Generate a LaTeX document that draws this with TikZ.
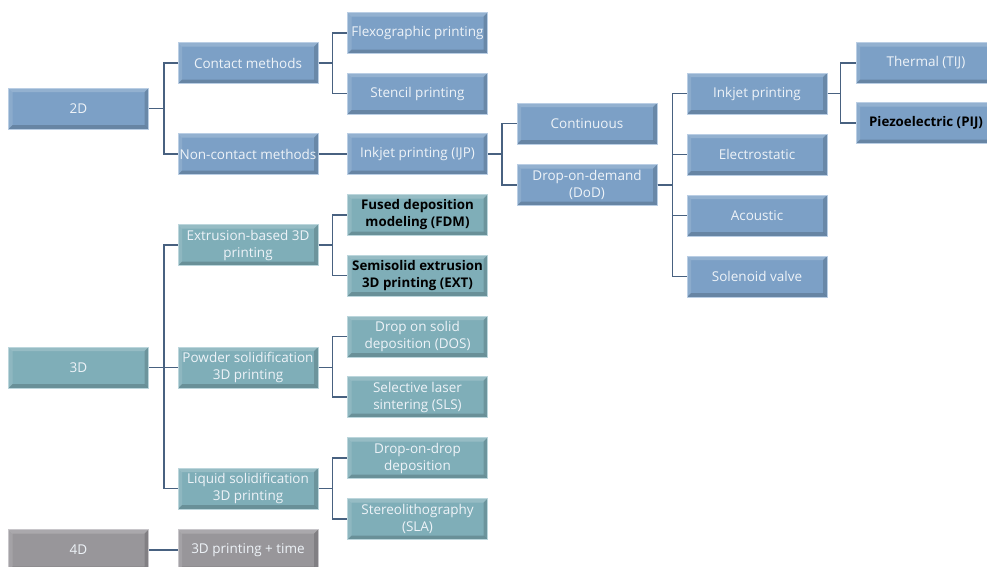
\documentclass[tikz,border=0pt]{standalone}
\usepackage{fontspec}
\setmainfont{Open Sans}
\definecolor{boxblue}{RGB}{124,160,198}
\definecolor{boxteal}{RGB}{127,174,184}
\definecolor{boxgray}{RGB}{152,150,154}
\definecolor{edgeblue}{RGB}{186,206,228}
\definecolor{edgeteal}{RGB}{188,214,220}
\definecolor{edgegray}{RGB}{200,198,202}
\definecolor{linecol}{RGB}{72,97,128}
\definecolor{boxtext}{RGB}{238,243,248}
\tikzset{
  bevel/.style={path picture={
    \coordinate (bv1) at (path picture bounding box.north west);
    \coordinate (bv2) at (path picture bounding box.north east);
    \coordinate (bv3) at (path picture bounding box.south east);
    \coordinate (bv4) at (path picture bounding box.south west);
    \fill[white,opacity=.18] (bv1) -- (bv2) -- ([shift={(-4pt,-4pt)}]bv2) -- ([shift={(4pt,-4pt)}]bv1) -- cycle;
    \fill[white,opacity=.12] (bv1) -- (bv4) -- ([shift={(4pt,4pt)}]bv4) -- ([shift={(4pt,-4pt)}]bv1) -- cycle;
    \fill[black,opacity=.17] (bv4) -- (bv3) -- ([shift={(-4pt,4pt)}]bv3) -- ([shift={(4pt,4pt)}]bv4) -- cycle;
    \fill[black,opacity=.15] (bv2) -- (bv3) -- ([shift={(-4pt,4pt)}]bv3) -- ([shift={(-4pt,-4pt)}]bv2) -- cycle;
  }},
  box/.style={minimum width=140pt, minimum height=41pt, inner sep=1pt, align=center,
    font=\fontsize{13.5}{17}\selectfont, text=boxtext, line width=1pt, bevel},
  bluebox/.style={box, fill=boxblue, draw=edgeblue},
  tealbox/.style={box, fill=boxteal, draw=edgeteal},
  graybox/.style={box, fill=boxgray, draw=edgegray},
  strong/.style={text=black, font=\fontsize{13.3}{17}\selectfont\bfseries},
  conn/.style={draw=linecol, line width=1.5pt}
}
\begin{document}
\begin{tikzpicture}[x=1pt,y=-1pt]
\useasboundingbox (0,0) rectangle (987,566);
% 2D
\node[bluebox] (d2) at (78.5,108.5) {2D};
\node[bluebox] (contact) at (248,63) {Contact methods};
\node[bluebox] (noncontact) at (248,154) {Non-contact methods};
\node[bluebox] (flexo) at (417.5,33) {Flexographic printing};
\node[bluebox] (stencil) at (417.5,93.5) {Stencil printing};
\node[bluebox] (ijp) at (417.5,154) {Inkjet printing (IJP)};
\node[bluebox] (cont) at (587,123.5) {Continuous};
\node[bluebox] (dod) at (587,185) {Drop-on-demand\\(DoD)};
\node[bluebox] (inkjet) at (757,93.5) {Inkjet printing};
\node[bluebox] (electro) at (757,154.5) {Electrostatic};
\node[bluebox] (acoustic) at (757,215.5) {Acoustic};
\node[bluebox] (solenoid) at (757,276.5) {Solenoid valve};
\node[bluebox] (thermal) at (926,63) {Thermal (TIJ)};
\node[bluebox,strong] (piezo) at (926,123) {Piezoelectric (PIJ)};
% 3D
\node[tealbox] (d3) at (78.5,367.5) {3D};
\node[tealbox] (extr) at (248,245) {Extrusion-based 3D\\printing};
\node[tealbox] (powder) at (248,367.5) {Powder solidification\\3D printing};
\node[tealbox] (liquid) at (248,488.5) {Liquid solidification\\3D printing};
\node[tealbox,strong] (fdm) at (417.5,215) {Fused deposition\\modeling (FDM)};
\node[tealbox,strong] (ext) at (417.5,275.5) {Semisolid extrusion\\3D printing (EXT)};
\node[tealbox] (dos) at (417.5,336.5) {Drop on solid\\deposition (DOS)};
\node[tealbox] (sls) at (417.5,397) {Selective laser\\sintering (SLS)};
\node[tealbox] (dodd) at (417.5,458) {Drop-on-drop\\deposition};
\node[tealbox] (sla) at (417.5,519) {Stereolithography\\(SLA)};
% 4D
\node[graybox] (d4) at (78.5,550) {4D};
\node[graybox] (time) at (248,550) {3D printing + time};
% connectors
\draw[conn] (d2.east) -- ++(15,0) |- (contact.west);
\draw[conn] (d2.east) -- ++(15,0) |- (noncontact.west);
\draw[conn] (contact.east) -- ++(14,0) |- (flexo.west);
\draw[conn] (contact.east) -- ++(14,0) |- (stencil.west);
\draw[conn] (noncontact.east) -- (ijp.west);
\draw[conn] (ijp.east) -- ++(14,0) |- (cont.west);
\draw[conn] (ijp.east) -- ++(14,0) |- (dod.west);
\draw[conn] (dod.east) -- ++(15,0) |- (inkjet.west);
\draw[conn] (dod.east) -- ++(15,0) |- (electro.west);
\draw[conn] (dod.east) -- ++(15,0) |- (acoustic.west);
\draw[conn] (dod.east) -- ++(15,0) |- (solenoid.west);
\draw[conn] (inkjet.east) -- ++(13,0) |- (thermal.west);
\draw[conn] (inkjet.east) -- ++(13,0) |- (piezo.west);
\draw[conn] (d3.east) -- ++(15,0) |- (extr.west);
\draw[conn] (d3.east) -- (powder.west);
\draw[conn] (d3.east) -- ++(15,0) |- (liquid.west);
\draw[conn] (extr.east) -- ++(14,0) |- (fdm.west);
\draw[conn] (extr.east) -- ++(14,0) |- (ext.west);
\draw[conn] (powder.east) -- ++(14,0) |- (dos.west);
\draw[conn] (powder.east) -- ++(14,0) |- (sls.west);
\draw[conn] (liquid.east) -- ++(14,0) |- (dodd.west);
\draw[conn] (liquid.east) -- ++(14,0) |- (sla.west);
\draw[conn] (d4.east) -- (time.west);
\end{tikzpicture}
\end{document}
